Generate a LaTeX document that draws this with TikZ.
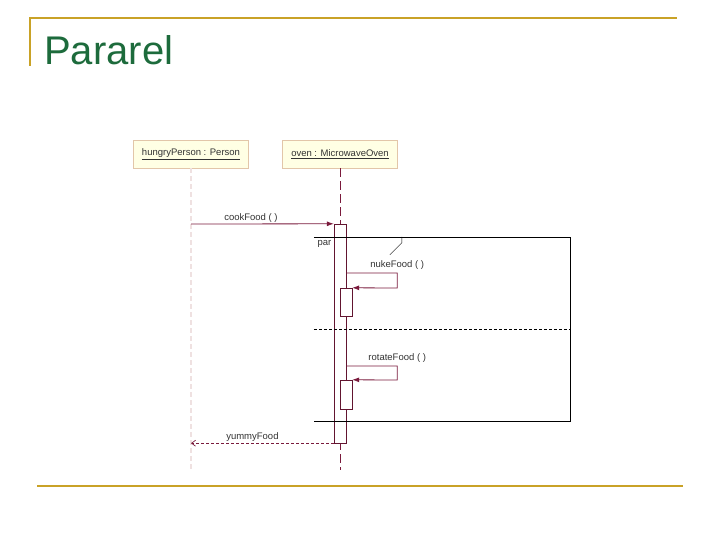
\documentclass[tikz,border=0pt]{standalone}
\usepackage{fontspec}
\setmainfont{Liberation Sans}
\usepackage{tikz}
\usetikzlibrary{positioning,arrows.meta}
\definecolor{slidegold}{HTML}{C9A227}
\definecolor{slidegreen}{HTML}{1D6B3C}
\definecolor{umlred}{HTML}{7A1A3C}
\definecolor{umlbox}{HTML}{FFFFE4}
\tikzset{
  goldline/.style={slidegold, line width=2.6pt},
  titletext/.style={font=\fontsize{40}{44}\selectfont, text=slidegreen, inner sep=0pt},
  lifebox/.style={draw=brown!45, fill=umlbox, minimum width=115pt, minimum height=28pt, font=\fontsize{9.5}{11}\selectfont, text=black!80},
  lifeline/.style={umlred, dashed, dash pattern=on 9pt off 4pt},
  faintline/.style={red!30!gray!18, dashed, dash pattern=on 5pt off 3pt, line width=1.2pt},
  actbar/.style={draw=umlred!80!black, fill=white, minimum width=12pt, inner sep=0pt},
  msgarrow/.style={-{Latex[length=7pt, width=5pt]}, umlred, line width=0.8pt},
  retarrow/.style={-{Straight Barb[length=4pt, width=6pt]}, umlred, densely dashed, line width=0.7pt},
  msglabel/.style={font=\fontsize{9.5}{11}\selectfont, text=black!80, inner sep=1.5pt},
  fragline/.style={black, thin}
}

\begin{document}
\begin{tikzpicture}[x=1pt, y=-1pt, >=Latex]
  \useasboundingbox (0,0) rectangle (720,540);
  % slide frame and title
  \draw[goldline] (30,66) -- (30,18) -- (677,18);
  \draw[goldline] (37,486) -- (683,486);
  \node[titletext, anchor=base west] (title) at (44,65) {Pararel};
  % lifelines
  \node[lifebox] (person) at (191,154) {\underline{hungryPerson : Person}};
  \node[lifebox] (oven) at (340,154) {\underline{oven : MicrowaveOven}};
  \coordinate (personend) at (191,470);
  \coordinate (ovenend) at (340,470);
  \draw[faintline] (person.south) -- (personend);
  \draw[lifeline] (oven.south) -- (ovenend);
  % activations
  \node[actbar, minimum height=219pt] (act) at (340,333.5) {};
  \node[actbar, minimum height=28pt] (nukeact) at (346,302) {};
  \node[actbar, minimum height=29pt] (rotateact) at (346,394.5) {};
  % par fragment
  \node[minimum width=256pt, minimum height=184pt, inner sep=0pt] (par) at (442,329) {};
  \draw[fragline] (par.north west) -- (par.north east) -- (par.south east) -- (par.south west);
  \draw[fragline] ([xshift=88pt]par.north west) -- ++(0,6) -- ++(-12,12);
  \node[msglabel, anchor=north west] (parlabel) at ([xshift=2pt, yshift=-2pt]par.north west) {par};
  \draw[fragline, densely dashed] (par.west) -- (par.east);
  % messages
  \coordinate (callstart) at (191,224);
  \draw[msgarrow] (callstart) -- node[msglabel, above, pos=0.42] {cookFood ( )} (act.north west);
  \draw[msgarrow] (act.east |- 0,273) -- ++(51,0) -- node[msglabel, above, pos=0, yshift=2pt] {nukeFood ( )} ++(0,15) -- (nukeact.north east);
  \draw[msgarrow] (act.east |- 0,366) -- ++(51,0) -- node[msglabel, above, pos=0, yshift=2pt] {rotateFood ( )} ++(0,14) -- (rotateact.north east);
  \draw[retarrow] (act.south west) -- node[msglabel, above, pos=0.57] {yummyFood} (callstart |- act.south);
\end{tikzpicture}
\end{document}
